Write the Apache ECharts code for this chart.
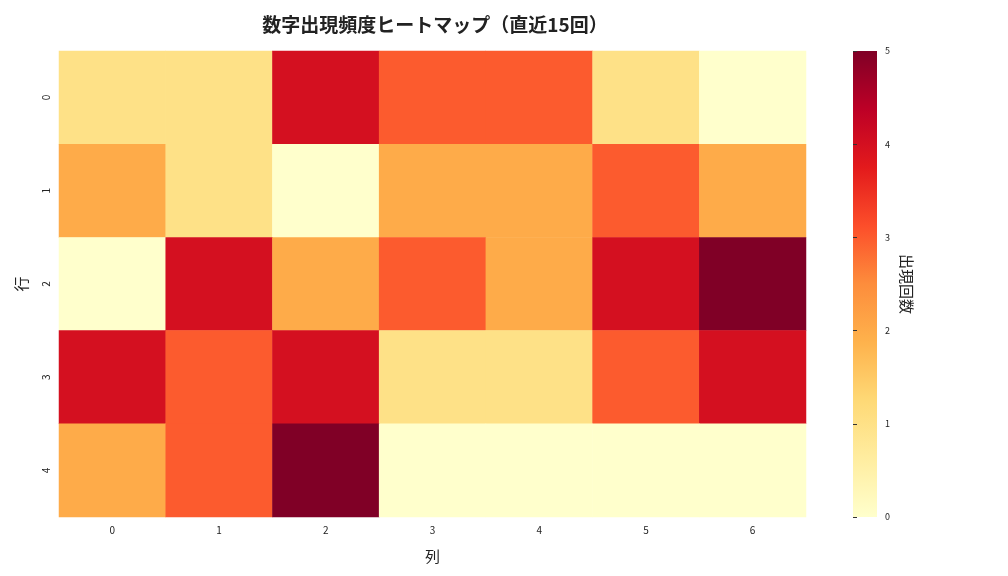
<!DOCTYPE html>
<html><head><meta charset="utf-8">
<script src="https://cdn.jsdelivr.net/npm/echarts@6/dist/echarts.min.js"></script>
<style>html,body{margin:0;background:#fff}#main{width:1008px;height:576px}</style>
</head><body><div id="main"></div>
<script>
const cols = ['0', '1', '2', '3', '4', '5', '6'];
const rows = ['0', '1', '2', '3', '4'];
// counts per cell, row by row
const counts = [
  [1, 1, 4, 3, 3, 1, 0],
  [2, 1, 0, 2, 2, 3, 2],
  [0, 4, 2, 3, 2, 4, 5],
  [4, 3, 4, 1, 1, 3, 4],
  [2, 3, 5, 0, 0, 0, 0]
];
// day number labels (null = no label)
const days = [
  [1, 2, 3, 4, 5, 6, 7],
  [8, 9, 10, 11, 12, 13, 14],
  [15, 16, 17, 18, 19, 20, 21],
  [22, 23, 24, 25, 26, 27, 28],
  [29, 30, 31, null, null, null, null]
];
const ylorrd = ['#ffffcc', '#ffeda0', '#fed976', '#feb24c', '#fd8d3c', '#fc4e2a', '#e31a1c', '#bd0026', '#800026'];

const data = [];
counts.forEach((r, i) => r.forEach((v, j) => data.push([j, i, v, days[i][j]])));

const font = '"Noto Sans CJK JP", "Noto Sans", sans-serif';
const chart = echarts.init(document.getElementById('main'));
chart.setOption({
  textStyle: { fontFamily: font },
  title: { text: '数字出現頻度ヒートマップ（直近15回）', left: 430, top: 10, textAlign: 'center',
    textStyle: { fontSize: 19, fontWeight: 'bold', color: '#222', fontFamily: font } },
  grid: [
    { left: 59, top: 51, width: 747, height: 466 },
    { left: 853, top: 51, width: 24, height: 466 }
  ],
  xAxis: [
    { type: 'category', data: cols, gridIndex: 0, name: '列', nameLocation: 'middle', nameGap: 32,
      nameTextStyle: { fontSize: 15, color: '#222' },
      axisLine: { show: false }, axisTick: { length: 4, lineStyle: { color: '#333' } },
      axisLabel: { fontSize: 10, color: '#222' }, splitLine: { show: false } },
    { type: 'value', gridIndex: 1, show: false, min: 0, max: 1 }
  ],
  yAxis: [
    { type: 'category', data: rows, inverse: true, gridIndex: 0, name: '行', nameLocation: 'middle', nameGap: 30,
      nameRotate: 90, nameTextStyle: { fontSize: 15, color: '#222' },
      axisLine: { show: false }, axisTick: { length: 4, lineStyle: { color: '#333' } },
      axisLabel: { fontSize: 10, color: '#222', rotate: 90 } },
    { type: 'value', gridIndex: 1, min: 0, max: 5, interval: 1, position: 'right',
      name: '出現回数', nameLocation: 'middle', nameGap: 22, nameRotate: -90,
      nameTextStyle: { fontSize: 15, color: '#222' },
      axisLine: { show: false }, axisTick: { show: true, length: 4, lineStyle: { color: '#333' } },
      axisLabel: { fontSize: 9, color: '#222' }, splitLine: { show: false } }
  ],
  visualMap: { show: false, min: 0, max: 5, dimension: 2, seriesIndex: 0, inRange: { color: ylorrd } },
  graphic: [{
    type: 'rect', shape: { x: 853, y: 51, width: 24, height: 466 }, z: -1,
    style: { fill: new echarts.graphic.LinearGradient(0, 1, 0, 0,
      ylorrd.map((c, i) => ({ offset: i / (ylorrd.length - 1), color: c }))) }
  }],
  series: [{
    type: 'heatmap', xAxisIndex: 0, yAxisIndex: 0, data: data,
    label: {
      show: true, fontSize: 17,
      formatter: p => p.data[3] == null ? '' : String(p.data[3]),
      rich: {}
    },
    itemStyle: { borderWidth: 0 }
  }]
});
// text color depending on count
chart.setOption({ series: [{ data: data.map(d => ({ value: d, label: { color: d[2] >= 3 ? '#fff' : '#222' } })) }] });
</script></body></html>
